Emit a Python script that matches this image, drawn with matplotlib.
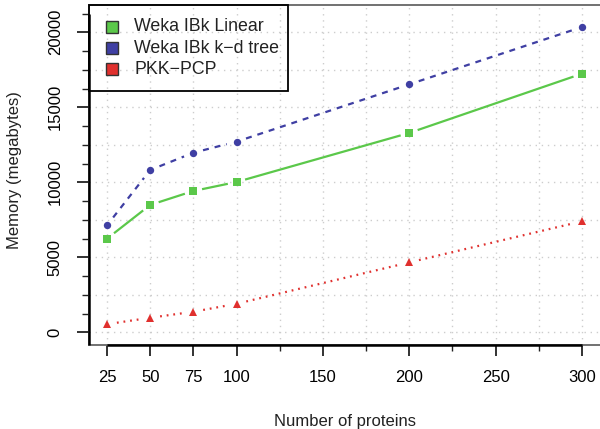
import numpy as np
import matplotlib
matplotlib.use("Agg")
import matplotlib.pyplot as plt
from matplotlib.patches import Rectangle

plt.rcParams['font.family'] = ['Liberation Sans', 'DejaVu Sans']
plt.rcParams['lines.scale_dashes'] = False

# ---- data ----
proteins = [25, 50, 75, 100, 200, 300]
linear = [6240, 8490, 9420, 10020, 13290, 17240]
kdtree = [7130, 10820, 11970, 12710, 16530, 20350]
pkkpcp = [540, 970, 1370, 1900, 4660, 7400]
series_names = ["Weka IBk Linear", "Weka IBk k\u2212d tree", "PKK\u2212PCP"]
x_major = [25, 50, 75, 100, 150, 200, 250, 300]
x_minor = [125, 175, 225, 275]
y_major = [0, 5000, 10000, 15000, 20000]

GREEN = "#5BC84A"
BLUE = "#3F3FA3"
RED = "#E0302E"

W, H = 600, 429
fig = plt.figure(figsize=(6.0, 4.29), dpi=100)

def fx(x):
    return x / W

def fy(y):
    return 1 - y / H

left_px, right_px, top_px, bot_px = 89.3, 600.0, 5.0, 345.0
ax = fig.add_axes([fx(left_px), fy(bot_px), fx(right_px) - fx(left_px), fy(top_px) - fy(bot_px)])

x_per_px = 1 / 1.727
ax.set_xlim(25 - (107.0 - left_px) * x_per_px, 25 + (right_px - 107.0) * x_per_px)
y_per_px = 1 / 0.015
ax.set_ylim(-(bot_px - 332.3) * y_per_px, (332.3 - top_px) * y_per_px)

# grid
for gx in np.arange(25, 301, 25):
    ax.axvline(gx, color="#CDCDCD", lw=1.0, ls=(0, (1, 3.4)), zorder=0)
for gy in np.arange(0, 20001, 2500):
    ax.axhline(gy, color="#CDCDCD", lw=1.0, ls=(0, (1, 3.4)), zorder=0)

# spines: grey box, black axis lines on tick range
for s in ["left", "bottom", "top"]:
    ax.spines[s].set_color("#666666")
    ax.spines[s].set_linewidth(1.3)
ax.spines["right"].set_visible(False)
ymin, ymax = ax.get_ylim()
xmin, xmax = ax.get_xlim()
ax.plot([25, 300], [ymin, ymin], color="black", lw=1.8, clip_on=False, zorder=5, solid_capstyle="butt")
ax.plot([xmin, xmin], [ymin, 21250], color="black", lw=1.8, clip_on=False, zorder=5, solid_capstyle="butt")

ax.set_xticks(x_major)
ax.set_xticks(x_minor, minor=True)
ax.set_yticks(y_major)
ax.set_yticks(np.arange(0, 21251, 1250), minor=True)
ax.tick_params(axis="x", which="major", length=8, width=1.3, pad=10, labelsize=12, color="#222222")
ax.tick_params(axis="x", which="minor", length=4.3, width=1.0, color="#222222")
ax.tick_params(axis="y", which="major", length=8.6, width=1.3, pad=10.5, labelsize=12, color="#222222")
ax.tick_params(axis="y", which="minor", length=4.7, width=1.0, color="#222222")
ax.set_yticklabels([str(v) for v in y_major], rotation=90, va="center")

fig.text(fx(344.6), fy(421.7), "Number of proteins", ha="center", va="center", fontsize=12, color="#222222")
fig.text(fx(15), fy(170), "Memory (megabytes)", ha="center", va="center", rotation=90, fontsize=12, color="#222222")

# lines with gaps around points (type="b")
GAP = 10.0

def draw_series(xs, ys, color, ls, lw, marker, ms):
    trans = ax.transData
    pts = trans.transform(np.column_stack([xs, ys]))
    inv = trans.inverted()
    for i in range(len(pts) - 1):
        p0, p1 = pts[i], pts[i + 1]
        d = p1 - p0
        L = np.hypot(*d)
        if L <= 2 * GAP:
            continue
        u = d / L
        a = inv.transform(p0 + u * GAP)
        b = inv.transform(p1 - u * GAP)
        ax.plot([a[0], b[0]], [a[1], b[1]], color=color, ls=ls, lw=lw, zorder=3, dash_capstyle="butt")
    ax.plot(xs, ys, ls="none", marker=marker, ms=ms, color=color, markeredgewidth=0, zorder=4)

draw_series(proteins, linear, GREEN, "-", 1.6, "s", 5.2)
draw_series(proteins, kdtree, BLUE, (0, (4.3, 4.3)), 1.6, "o", 5.3)
draw_series(proteins, pkkpcp, RED, (0, (1.3, 3.5)), 1.6, "^", 6.3)

# legend (manual, R style)
leg = Rectangle((fx(89.3), fy(90.7)), fx(288) - fx(89.3), fy(5) - fy(90.7),
                transform=fig.transFigure, fill=False, edgecolor="black", lw=1.3, zorder=10)
fig.add_artist(leg)
sq = 12.0
for name, col, cy in zip(series_names, [GREEN, BLUE, RED], [26.7, 48.3, 69.0]):
    r = Rectangle((fx(111.7 - sq / 2), fy(cy + sq / 2)), sq / W, sq / H, transform=fig.transFigure,
                  facecolor=col, edgecolor="#333333", lw=1.0, zorder=11)
    fig.add_artist(r)
    fig.text(fx(134), fy(cy), name, ha="left", va="center", fontsize=12.8, color="#222222", zorder=11)

fig.savefig("out.png", dpi=100)
